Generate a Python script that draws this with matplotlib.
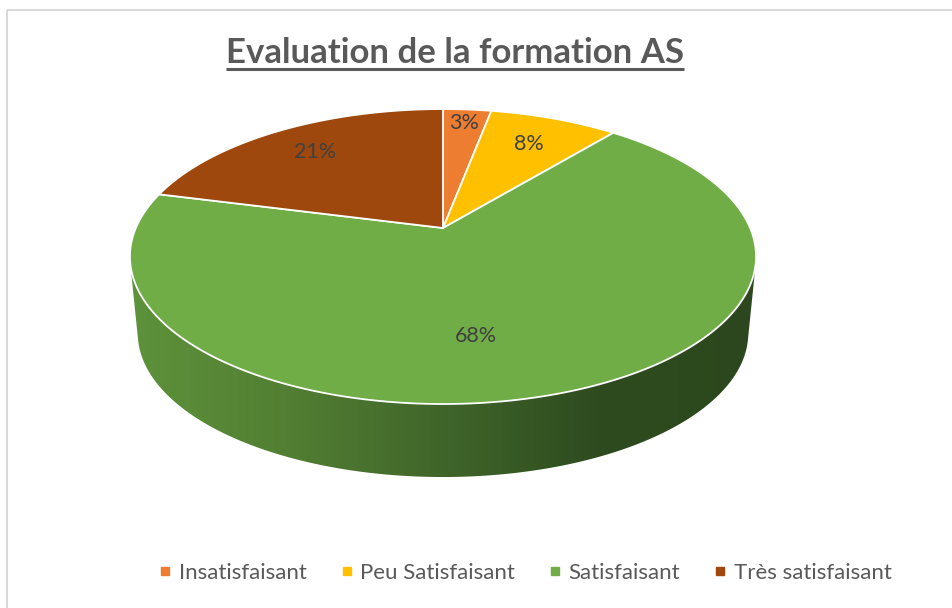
import numpy as np
import matplotlib.pyplot as plt
from matplotlib.patches import Polygon, Rectangle
from matplotlib.lines import Line2D
from matplotlib.colors import LinearSegmentedColormap


# ========================
# Données
# ========================

categories = ["Insatisfaisant", "Peu Satisfaisant", "Satisfaisant", "Très satisfaisant"]
valeurs = [3, 8, 68, 21]
couleurs = ["#ED7D31", "#FFC000", "#70AD47", "#9E480E"]
titre = "Evaluation de la formation AS"


# ========================
# Mise en page (pixels de la figure)
# ========================

W, H = 952, 608
CX, CY = 443, 228          # sommet du camembert
A, B = 1588, 734           # échelles horizontale / verticale
K = 5.17                   # distance de la caméra (perspective)
F, VY = 0.975, 3324        # face inférieure : homothétie de rapport F autour de (CX, VY)

# position des étiquettes : (rayon, décalage d'angle en degrés)
pos_etiquettes = [(0.87, 0), (0.74, 0), (0.67, -10), (0.76, 0)]


def projeter(theta, r=1.0):
    """Projette un point de la face supérieure (angle en radians) en pixels."""
    X = r * np.cos(theta)
    Y = r * np.sin(theta)
    s = K + Y
    return CX + A * X / s, CY - B * Y / s


def vers_bas(x, y):
    """Point correspondant sur la face inférieure du disque."""
    return CX + F * (x - CX), VY + F * (y - VY)


plt.rcParams["font.family"] = ["Lato", "DejaVu Sans"]

fig = plt.figure(figsize=(W / 100, H / 100), dpi=100)
ax = fig.add_axes([0, 0, 1, 1])
ax.set_xlim(0, W)
ax.set_ylim(H, 0)
ax.axis("off")

# bordure de la zone de graphique
ax.add_patch(Rectangle((7, 10), 1200, 1200, facecolor="none",
                       edgecolor="#d9d9d9", linewidth=1.5, zorder=0))

# angles des parts (départ à 90°, sens horaire)
fractions = np.array(valeurs, dtype=float) / np.sum(valeurs)
bornes = np.pi / 2 - 2 * np.pi * np.concatenate([[0], np.cumsum(fractions)])

# ---- flanc avant (dégradé) ----
tt = np.linspace(0.5 * np.pi, 2.5 * np.pi, 2000)
xh, yh = projeter(tt)
pente = (xh - CX) / (VY - yh)
i_g, i_d = np.argmin(pente), np.argmax(pente)
xh, yh = xh[i_g:i_d + 1], yh[i_g:i_d + 1]
xb, yb = vers_bas(xh[::-1], yh[::-1])
flanc = Polygon(np.column_stack([np.concatenate([xh, xb]), np.concatenate([yh, yb])]),
                closed=True, facecolor="none", edgecolor="none")
ax.add_patch(flanc)
degrade = LinearSegmentedColormap.from_list(
    "flanc", ["#5e923b", "#527f33", "#40652a", "#2e4b1f", "#2c471d"])
img = ax.imshow(np.linspace(0, 1, 256)[None, :], cmap=degrade, aspect="auto",
                extent=(xh.min(), xh.max(), yb.max(), yh.min()), zorder=1)
img.set_clip_path(flanc)
ax.set_xlim(0, W)
ax.set_ylim(H, 0)

# ---- face supérieure ----
for i, couleur in enumerate(couleurs):
    a0, a1 = bornes[i], bornes[i + 1]
    arc = np.linspace(a0, a1, 200)
    xa, ya = projeter(arc)
    pts = np.column_stack([np.concatenate([[CX], xa]), np.concatenate([[CY], ya])])
    ax.add_patch(Polygon(pts, closed=True, facecolor=couleur, edgecolor="white",
                         linewidth=1.3, joinstyle="round", zorder=2))

# ---- étiquettes de pourcentage ----
for i, v in enumerate(fractions):
    r, dt = pos_etiquettes[i]
    milieu = (bornes[i] + bornes[i + 1]) / 2 + np.radians(dt)
    x, y = projeter(milieu, r=r)
    ax.text(x, y, f"{v * 100:.0f}%", ha="center", va="center",
            fontsize=15.5, color="#404040", zorder=3)

# ---- titre souligné ----
t = ax.text(454.5, 63, titre, ha="center", va="baseline", fontsize=25,
            fontweight="bold", color="#595959", zorder=3)
fig.canvas.draw()
bb = t.get_window_extent().transformed(ax.transData.inverted())
ax.plot([bb.x0, bb.x1], [69, 69], color="#595959", linewidth=2.2,
        solid_capstyle="butt", zorder=3)

# ---- légende ----
poignees = [Line2D([], [], linestyle="none", marker="s", markersize=5.5,
                   markerfacecolor=c, markeredgecolor=c) for c in couleurs]
fig.legend(poignees, categories, loc="center", ncol=4, frameon=False,
           bbox_to_anchor=(525 / W, 1 - 573 / H), fontsize=16,
           labelcolor="#595959", handlelength=0.6, handletextpad=0.31,
           columnspacing=1.5)

fig.savefig("out.png", dpi=100)
